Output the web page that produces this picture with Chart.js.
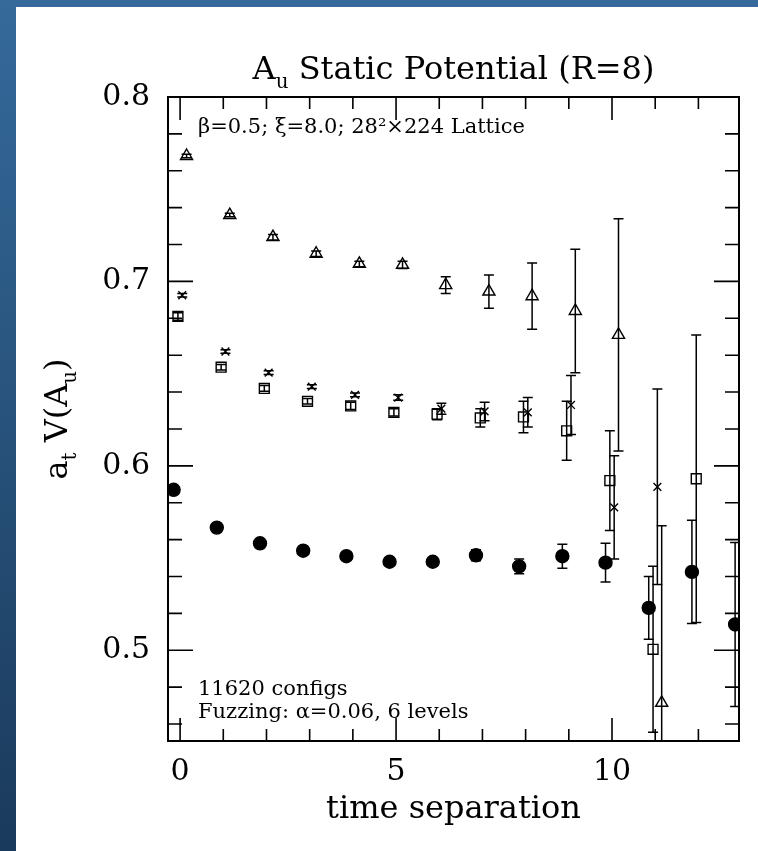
<!DOCTYPE html>
<html><head><meta charset="utf-8">
<script src="https://cdn.jsdelivr.net/npm/chart.js@4.4.1/dist/chart.umd.min.js"></script>
<style>
html,body{margin:0;padding:0;}
body{width:758px;height:851px;background:linear-gradient(to bottom,#356a9b,#1a3a5b);position:relative;overflow:hidden;}
#panel{position:absolute;left:16px;top:7px;right:0;bottom:0;background:#ffffff;}
#wrap{position:absolute;left:0;top:0;width:758px;height:851px;}
</style></head>
<body><div id="panel"></div><div id="wrap"><canvas id="c" width="758" height="851"></canvas></div>
<script>
// ---- data ----
const timeSep = [0,1,2,3,4,5,6,7,8,9,10,11,12,13];

const circleVals = [0.587,0.5665,0.558,0.554,0.551,0.548,0.548,0.5515,0.5455,0.551,0.5475,0.523,0.5425,0.514];
const circleErrs = [0.001,0.001,0.001,0.001,0.001,0.0015,0.002,0.003,0.004,0.0065,0.0105,0.017,0.028,0.0445];

const squareVals = [0.681,0.6535,0.642,0.635,0.6325,0.629,0.628,0.626,0.6265,0.619,0.592,0.5005,0.593];
const squareErrs = [0.002,0.0015,0.0015,0.0015,0.002,0.002,0.003,0.005,0.0085,0.016,0.027,0.045,0.078];

const crossVals = [0.6925,0.662,0.6505,0.643,0.6385,0.637,0.631,0.6295,0.629,0.633,0.5775,0.5886];
const crossErrs = [0.001,0.001,0.001,0.001,0.001,0.0015,0.003,0.005,0.008,0.016,0.028,0.053];

const triVals = [0.768,0.736,0.724,0.715,0.7095,0.709,0.698,0.6945,0.692,0.684,0.671,0.4715];
const triErrs = [0.001,0.001,0.0015,0.0015,0.0015,0.002,0.0045,0.009,0.018,0.0335,0.063,0.096];

const xTickValues = [0,1,2,3,4,5,6,7,8,9,10,11,12];
const xTickLabels = ['0','','','','','5','','','','','10','',''];
const yTickValues = [0.46,0.48,0.50,0.52,0.54,0.56,0.58,0.60,0.62,0.64,0.66,0.68,0.70,0.72,0.74,0.76,0.78,0.80];
const yTickLabels = ['','','0.5','','','','','0.6','','','','','0.7','','','','','0.8'];

const titleParts = [['A',false],['u',true],[' Static Potential (R=8)',false]];
const xTitle = 'time separation';
const yTitleParts = [['a',false],['t',true],[' V(A',false],['u',true],[')',false]];
const noteTop = 'β=0.5; ξ=8.0; 28²×224 Lattice';
const noteBottom = ['11620 configs','Fuzzing: α=0.06, 6 levels'];

// ---- build datasets ----
const FONT = '"DejaVu Serif", serif';
function mk(vals, errs, shift, style, radius, fill){
  return {
    data: vals.map((v,i)=>({x: timeSep[i]+shift, y: v})),
    errs: errs,
    pointStyle: style, pointRadius: radius, pointHoverRadius: radius,
    borderColor: '#000', backgroundColor: fill, pointBorderWidth: 1.4, borderWidth: 1.4,
    showLine: false
  };
}
const datasets = [
  mk(circleVals, circleErrs, -0.15, 'circle', 6.5, '#000'),
  mk(squareVals, squareErrs, -0.05, 'rect', 7, 'rgba(0,0,0,0)'),
  mk(crossVals, crossErrs, 0.05, 'crossRot', 5.5, 'rgba(0,0,0,0)'),
  mk(triVals, triErrs, 0.15, 'triangle', 7, 'rgba(0,0,0,0)')
];

function drawParts(ctx, parts, x, y, size, align){
  const subSize = size*0.62;
  let w = 0;
  parts.forEach(([t,sub])=>{ ctx.font = (sub?subSize:size)+'px '+FONT; w += ctx.measureText(t).width; });
  let cx = align==='center' ? x - w/2 : x;
  parts.forEach(([t,sub])=>{
    ctx.font = (sub?subSize:size)+'px '+FONT;
    ctx.fillText(t, cx, sub ? y + size*0.28 : y);
    cx += ctx.measureText(t).width;
  });
}

const errorBars = {
  id: 'errorBars',
  afterDatasetsDraw(chart){
    const ctx = chart.ctx, xs = chart.scales.x, ys = chart.scales.y, a = chart.chartArea;
    ctx.save();
    ctx.beginPath(); ctx.rect(a.left, a.top, a.right-a.left, a.bottom-a.top); ctx.clip();
    ctx.strokeStyle = '#000'; ctx.lineWidth = 1.5;
    chart.data.datasets.forEach(ds=>{
      ds.data.forEach((p,i)=>{
        const e = ds.errs[i];
        const px = xs.getPixelForValue(p.x);
        const hi = ys.getPixelForValue(p.y+e), lo = ys.getPixelForValue(p.y-e);
        ctx.beginPath();
        ctx.moveTo(px, hi); ctx.lineTo(px, lo);
        ctx.moveTo(px-5, hi); ctx.lineTo(px+5, hi);
        ctx.moveTo(px-5, lo); ctx.lineTo(px+5, lo);
        ctx.stroke();
      });
    });
    ctx.restore();
  }
};

const frameAndText = {
  id: 'frameAndText',
  afterDraw(chart){
    const ctx = chart.ctx, xs = chart.scales.x, ys = chart.scales.y, a = chart.chartArea;
    ctx.save();
    ctx.strokeStyle = '#000'; ctx.lineWidth = 2;
    ctx.strokeRect(a.left, a.top, a.right-a.left, a.bottom-a.top);
    ctx.lineWidth = 1.6;
    ctx.beginPath();
    yTickValues.forEach((v,i)=>{
      const py = ys.getPixelForValue(v);
      const len = yTickLabels[i] ? 25 : 14;
      ctx.moveTo(a.left, py); ctx.lineTo(a.left+len, py);
      ctx.moveTo(a.right, py); ctx.lineTo(a.right-len, py);
    });
    xTickValues.forEach((v,i)=>{
      const px = xs.getPixelForValue(v);
      const len = xTickLabels[i] ? 23 : 12;
      ctx.moveTo(px, a.bottom); ctx.lineTo(px, a.bottom-len);
      ctx.moveTo(px, a.top); ctx.lineTo(px, a.top+len);
    });
    ctx.stroke();

    ctx.fillStyle = '#000';
    ctx.textBaseline = 'alphabetic';
    const midX = (a.left+a.right)/2, midY = (a.top+a.bottom)/2;
    // title
    drawParts(ctx, titleParts, midX, 79, 32, 'center');
    // x title
    ctx.font = '32px '+FONT; ctx.textAlign = 'center';
    ctx.fillText(xTitle, midX, 818);
    ctx.textAlign = 'left';
    // y title
    ctx.save();
    ctx.translate(67, midY);
    ctx.rotate(-Math.PI/2);
    drawParts(ctx, yTitleParts, 0, 0, 32, 'center');
    ctx.restore();
    // notes
    ctx.font = '21px '+FONT;
    ctx.fillText(noteTop, 198, 133);
    ctx.fillText(noteBottom[0], 198, 695);
    ctx.fillText(noteBottom[1], 198, 718);
    ctx.restore();
  }
};

new Chart(document.getElementById('c'), {
  type: 'scatter',
  data: { datasets },
  options: {
    responsive: false, animation: false, devicePixelRatio: 1,
    layout: { padding: { top: 97, right: 19, left: 0, bottom: 0 } },
    plugins: { legend: { display: false }, tooltip: { enabled: false }, title: { display: false } },
    scales: {
      x: {
        type: 'linear', min: -0.28, max: 12.94,
        afterBuildTicks: s => { s.ticks = xTickValues.map(v=>({value:v})); },
        afterFit: s => { s.height = 110; },
        grid: { display: false, drawTicks: false }, border: { display: false },
        ticks: { autoSkip: false, maxRotation: 0, padding: 13, color: '#000',
          font: { family: FONT, size: 30 },
          callback: (v) => { const i = xTickValues.indexOf(v); return i >= 0 ? xTickLabels[i] : ''; } }
      },
      y: {
        type: 'linear', min: 0.4508, max: 0.8,
        afterBuildTicks: s => { s.ticks = yTickValues.map(v=>({value:v})); },
        afterFit: s => { s.width = 168; },
        grid: { display: false, drawTicks: false }, border: { display: false },
        ticks: { autoSkip: false, padding: 18, color: '#000',
          font: { family: FONT, size: 30 },
          callback: (v) => { const i = yTickValues.findIndex(t=>Math.abs(t-v)<1e-9); return i >= 0 ? yTickLabels[i] : ''; } }
      }
    }
  },
  plugins: [errorBars, frameAndText]
});
</script>
</body></html>
